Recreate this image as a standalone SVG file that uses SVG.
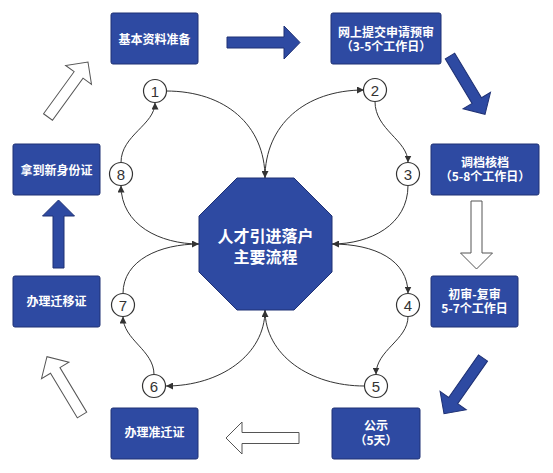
<svg xmlns="http://www.w3.org/2000/svg" width="553" height="473" viewBox="0 0 553 473">
<defs>
<style>
.box{fill:#2E4AA2;stroke:#1F3174;stroke-width:1}
.bt{fill:#fff;font-family:"Noto Sans CJK SC","Noto Sans",sans-serif;font-weight:bold;font-size:12px;text-anchor:middle}
.ct{fill:#fff;font-family:"Noto Sans CJK SC","Noto Sans",sans-serif;font-weight:bold;font-size:16px;text-anchor:middle}
.num{fill:#333;font-family:"Liberation Sans",Arial,sans-serif;font-size:15px;text-anchor:middle}
.circ{fill:#fff;stroke:#333;stroke-width:1.2}
.con{fill:none;stroke:#333;stroke-width:1;marker-end:url(#ah)}
.ba{fill:#2E4AA2;stroke:#1F3174;stroke-width:1}
.ha{fill:#fff;stroke:#555;stroke-width:1}
</style>
<marker id="ah" viewBox="0 0 8 8" refX="8" refY="4" markerWidth="7" markerHeight="7" markerUnits="userSpaceOnUse" orient="auto">
<path d="M0,0 L8,4 L0,8 Z" fill="#333"/>
</marker>
</defs>
<rect width="553" height="473" fill="#fff"/>

<g id="big-arrows">
<polygon class="ba" transform="translate(227,42.5)" points="0,-5.5 57,-5.5 57,-16.5 73,0 57,16.5 57,5.5 0,5.5"/>
<polygon class="ba" transform="translate(450,56) rotate(59)" points="0,-5.5 52,-5.5 52,-16 68,0 52,16 52,5.5 0,5.5"/>
<polygon class="ha" transform="translate(476.5,201) rotate(90)" points="0,-5.5 52,-5.5 52,-16 68,0 52,16 52,5.5 0,5.5"/>
<polygon class="ba" transform="translate(483,358) rotate(125)" points="0,-5.5 52,-5.5 52,-16 68,0 52,16 52,5.5 0,5.5"/>
<polygon class="ha" transform="translate(299,438) rotate(180)" points="0,-5.5 57,-5.5 57,-16 73,0 57,16 57,5.5 0,5.5"/>
<polygon class="ha" transform="translate(82,415) rotate(-121)" points="0,-5.5 52,-5.5 52,-16 68,0 52,16 52,5.5 0,5.5"/>
<polygon class="ba" transform="translate(58.5,268) rotate(-90)" points="0,-5.5 52,-5.5 52,-16 68,0 52,16 52,5.5 0,5.5"/>
<polygon class="ha" transform="translate(48,117) rotate(-54)" points="0,-5.5 52,-5.5 52,-16 68,0 52,16 52,5.5 0,5.5"/>
</g>

<g id="connectors">
<path class="con" d="M166,91 C225,91 265,125 265,178"/>
<path class="con" d="M265,178 C265,125 305,90 364,90"/>
<path class="con" d="M375,101.5 C375,130 408,140 408,162.5"/>
<path class="con" d="M408,185.5 C408,225 370,244 332,244"/>
<path class="con" d="M332,244 C375,244 408,260 408,293.5"/>
<path class="con" d="M408,316.5 C408,340 376,350 376,374.5"/>
<path class="con" d="M364.5,386 C310,386 265,355 265,310"/>
<path class="con" d="M265,310 C265,355 220,386 166,386"/>
<path class="con" d="M154,374.5 C154,350 123,340 123,316.5"/>
<path class="con" d="M123,293.5 C123,260 160,244 199,244"/>
<path class="con" d="M199,244 C160,244 121,225 121,185.5"/>
<path class="con" d="M121,162.5 C121,135 155,125 155,102.5"/>
</g>

<g id="center">
<polygon class="box" points="237,178 294,178 332,216 332,272 294,310 237,310 199,272 199,216"/>
<text class="ct" x="265.5" y="242">人才引进落户</text>
<text class="ct" x="265.5" y="263">主要流程</text>
</g>

<g id="n-jiben"><rect class="box" x="111" y="13" width="87" height="51" rx="2"/><text class="bt" x="154.5" y="44">基本资料准备</text></g>
<g id="n-wangshang"><rect class="box" x="331" y="13" width="110" height="51" rx="2"/><text class="bt" x="386" y="37">网上提交申请预审</text><text class="bt" x="386" y="51">（3-5个工作日）</text></g>
<g id="n-diaodang"><rect class="box" x="431" y="144" width="108" height="51" rx="2"/><text class="bt" x="485" y="167">调档核档</text><text class="bt" x="485" y="181">（5-8个工作日）</text></g>
<g id="n-chushen"><rect class="box" x="431" y="276" width="87" height="51" rx="2"/><text class="bt" x="474.5" y="299">初审-复审</text><text class="bt" x="474.5" y="313">5-7个工作日</text></g>
<g id="n-gongshi"><rect class="box" x="332" y="408" width="88" height="51" rx="2"/><text class="bt" x="376" y="430">公示</text><text class="bt" x="376" y="445">（5天）</text></g>
<g id="n-zhunqian"><rect class="box" x="111" y="408" width="87" height="51" rx="2"/><text class="bt" x="154.5" y="437">办理准迁证</text></g>
<g id="n-qianyi"><rect class="box" x="13" y="276" width="87" height="51" rx="2"/><text class="bt" x="56.5" y="306">办理迁移证</text></g>
<g id="n-shenfen"><rect class="box" x="13" y="144" width="87" height="51" rx="2"/><text class="bt" x="56.5" y="175">拿到新身份证</text></g>

<g id="c1"><circle class="circ" cx="155" cy="91" r="11.5"/><text class="num" x="155" y="96.5">1</text></g>
<g id="c2"><circle class="circ" cx="375" cy="90" r="11.5"/><text class="num" x="375" y="95.5">2</text></g>
<g id="c3"><circle class="circ" cx="408" cy="174" r="11.5"/><text class="num" x="408" y="179.5">3</text></g>
<g id="c4"><circle class="circ" cx="408" cy="305" r="11.5"/><text class="num" x="408" y="310.5">4</text></g>
<g id="c5"><circle class="circ" cx="376" cy="386" r="11.5"/><text class="num" x="376" y="391.5">5</text></g>
<g id="c6"><circle class="circ" cx="154" cy="386" r="11.5"/><text class="num" x="154" y="391.5">6</text></g>
<g id="c7"><circle class="circ" cx="123" cy="305" r="11.5"/><text class="num" x="123" y="310.5">7</text></g>
<g id="c8"><circle class="circ" cx="121" cy="174" r="11.5"/><text class="num" x="121" y="179.5">8</text></g>
</svg>
